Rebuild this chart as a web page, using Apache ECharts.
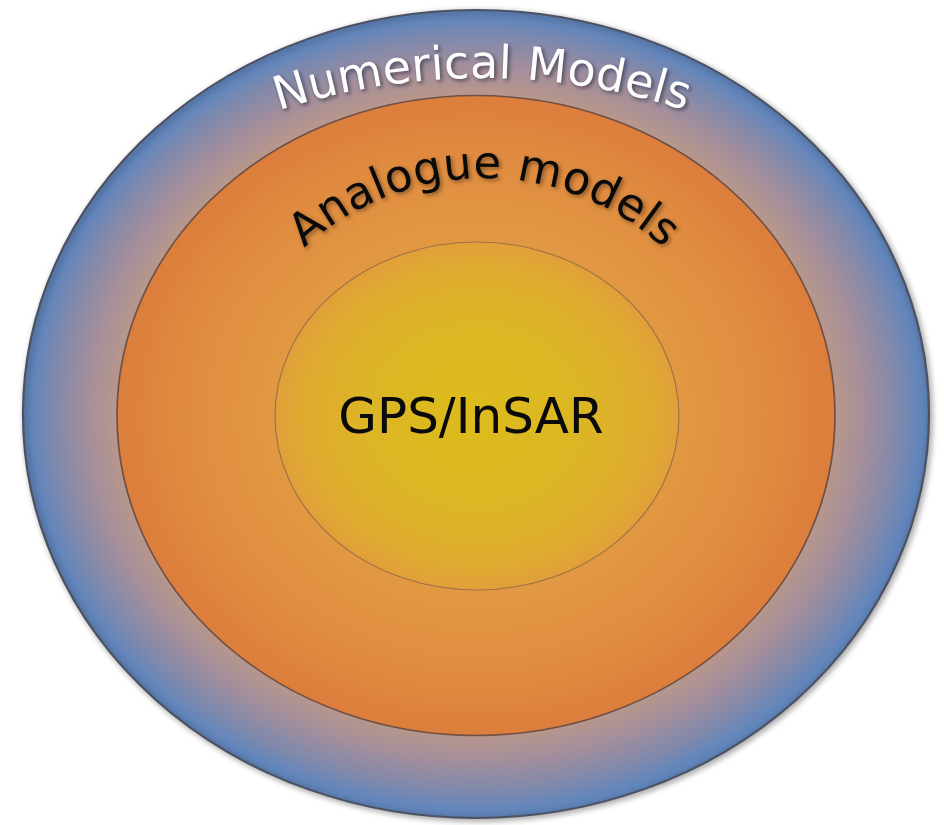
<!DOCTYPE html>
<html>
<head>
<meta charset="utf-8">
<title>Nested models</title>
<script src="https://cdn.jsdelivr.net/npm/echarts@6/dist/echarts.min.js"></script>
<style>
  html, body { margin: 0; padding: 0; background: #fff; }
  #chart { width: 944px; height: 825px; }
</style>
</head>
<body>
<div id="chart"></div>
<script>
// ring names, from outside to inside
const labels = ['Numerical Models', 'Analogue models', 'GPS/InSAR'];
// ellipse centres and half-axes (chart units = px of the 944x825 frame)
const centerX = [476, 476, 477];
const centerY = [414, 415.5, 416];
const radiusX = [453, 359, 202];
const radiusY = [404, 320, 174];

// look of each ring
const ringStyle = [
  {
    stops: [[0, '#b8978b'], [0.79, '#b8978b'], [0.86, '#a28e9c'], [0.93, '#8089ac'], [0.975, '#6486bb'], [1, '#5b80b6']],
    stroke: '#4d5262', width: 2, shadow: 'rgba(0,0,0,0.35)'
  },
  {
    stops: [[0, '#e39c40'], [0.56, '#e29842'], [0.8, '#e08c40'], [1, '#dc7d3c']],
    stroke: '#6e5046', width: 1.5, shadow: null
  },
  {
    stops: [[0, '#dcbc1c'], [0.5, '#dcb624'], [0.85, '#dfab30'], [1, '#e19f3a']],
    stroke: '#9c7248', width: 1, shadow: null
  }
];

// label placement: arc radius (0 = straight), baseline top y, centre x
const labelStyle = [
  { arc: 650, baseY: 82, midX: 482, size: 46, color: '#fdfdfd', spacing: 0, shadow: 'rgba(20,20,40,0.6)' },
  { arc: 262, baseY: 182, midX: 484, size: 45, color: '#0a0a0a', spacing: 0, shadow: 'rgba(0,0,0,0.4)' },
  { arc: 0, baseY: 437, midX: 471, size: 50, color: '#0a0a0a', spacing: 0, shadow: null }
];

const FONT = '"DejaVu Sans", Verdana, sans-serif';
const measureCtx = document.createElement('canvas').getContext('2d');

const rows = labels.map((name, i) => [centerX[i], centerY[i], radiusX[i], radiusY[i], i]);

const myChart = echarts.init(document.getElementById('chart'));

const renderRing = (params, api) => {
  const i = api.value(4);
  const c = api.coord([api.value(0), api.value(1)]);
  const s = api.size([api.value(2), api.value(3)]);
  const st = ringStyle[i];
  return {
    type: 'circle',
    x: c[0],
    y: c[1],
    scaleX: s[0] / s[1],
    shape: { cx: 0, cy: 0, r: s[1] },
    style: {
      fill: new echarts.graphic.RadialGradient(0.5, 0.5, 0.5,
        st.stops.map(p => ({ offset: p[0], color: p[1] }))),
      stroke: st.stroke,
      lineWidth: st.width,
      strokeNoScale: true,
      shadowBlur: st.shadow ? 6 : 0,
      shadowColor: st.shadow || 'transparent',
      shadowOffsetX: 2,
      shadowOffsetY: 2
    }
  };
};

const renderLabel = (params, api) => {
  const i = api.value(4);
  const ls = labelStyle[i];
  const text = labels[i];
  const base = api.coord([ls.midX, ls.baseY]);
  const textStyle = (ch) => ({
    text: ch,
    fontSize: ls.size,
    fontFamily: FONT,
    fill: ls.color,
    align: 'center',
    verticalAlign: 'middle',
    textShadowColor: ls.shadow || 'transparent',
    textShadowBlur: ls.shadow ? 4 : 0,
    textShadowOffsetX: ls.shadow ? 2 : 0,
    textShadowOffsetY: ls.shadow ? 2 : 0
  });
  const lift = 0.346 * ls.size;
  if (!ls.arc) {
    return { type: 'text', x: base[0], y: base[1] - lift, style: textStyle(text) };
  }
  measureCtx.font = ls.size + 'px ' + FONT;
  const widths = text.split('').map(ch => measureCtx.measureText(ch).width + ls.spacing);
  const total = widths.reduce((a, b) => a + b, 0);
  const ax = base[0];
  const ay = base[1] + ls.arc;
  const r = ls.arc + lift;
  let run = 0;
  const children = text.split('').map((ch, k) => {
    const mid = run + widths[k] / 2 - total / 2;
    run += widths[k];
    const th = mid / ls.arc;
    return {
      type: 'text',
      x: ax + r * Math.sin(th),
      y: ay - r * Math.cos(th),
      rotation: -th,
      style: textStyle(ch)
    };
  });
  return { type: 'group', children };
};

const option = {
  animation: false,
  grid: { left: 0, right: 0, top: 0, bottom: 0 },
  xAxis: { type: 'value', min: 0, max: 944, show: false },
  yAxis: { type: 'value', min: 0, max: 825, inverse: true, show: false },
  series: [
    {
      type: 'custom',
      silent: true,
      renderItem: renderRing,
      data: rows,
      z: 1
    },
    {
      type: 'custom',
      silent: true,
      renderItem: renderLabel,
      data: rows,
      z: 2
    }
  ]
};
myChart.setOption(option);

window.addEventListener('resize', () => {
  myChart.resize();
});
</script>
</body>
</html>
